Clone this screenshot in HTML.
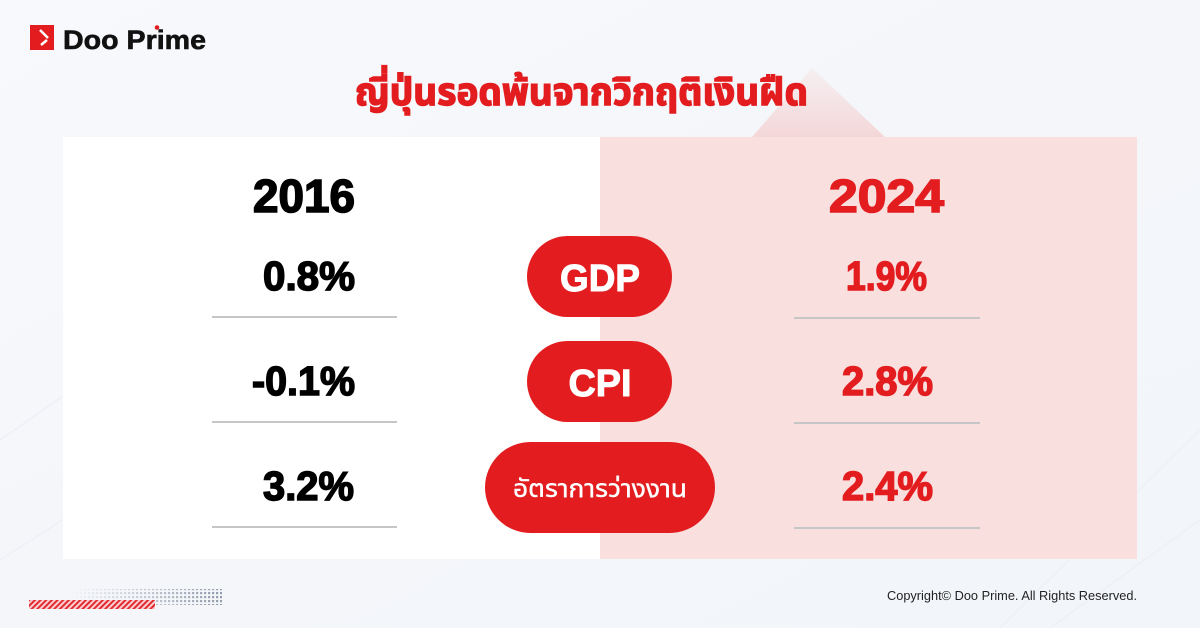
<!DOCTYPE html>
<html>
<head>
<meta charset="utf-8">
<style>
html,body{margin:0;padding:0;}
body{width:1200px;height:628px;overflow:hidden;background:#f5f7fb;}
svg{display:block;}
text{font-family:"Liberation Sans","Noto Sans CJK SC",sans-serif;}
</style>
</head>
<body>
<svg width="1200" height="628" viewBox="0 0 1200 628" xmlns="http://www.w3.org/2000/svg">
  <defs>
    <linearGradient id="bg" x1="0" y1="0" x2="1" y2="1">
      <stop offset="0" stop-color="#f8f9fc"/>
      <stop offset="0.5" stop-color="#f4f6fa"/>
      <stop offset="1" stop-color="#f2f5f9"/>
    </linearGradient>
    <linearGradient id="tri" x1="0" y1="0" x2="0" y2="1">
      <stop offset="0" stop-color="#f6d4d4" stop-opacity="0.25"/>
      <stop offset="1" stop-color="#f3c9c9" stop-opacity="0.7"/>
    </linearGradient>
    <pattern id="hatch" width="4" height="4" patternUnits="userSpaceOnUse" patternTransform="rotate(45)">
      <rect width="4" height="4" fill="#f6d0d2"/>
      <rect width="2" height="4" fill="#e52a2f"/>
    </pattern>
    <pattern id="dots" width="4" height="4" patternUnits="userSpaceOnUse">
      <rect width="2.2" height="2.2" fill="#8f9aaa"/>
    </pattern>
    <linearGradient id="fade" x1="0" y1="0" x2="1" y2="0">
      <stop offset="0" stop-color="#fff" stop-opacity="0"/>
      <stop offset="1" stop-color="#fff" stop-opacity="1"/>
    </linearGradient>
    <mask id="dm"><rect x="70" y="588" width="155" height="20" fill="url(#fade)"/></mask>
  </defs>

  <rect width="1200" height="628" fill="url(#bg)"/>
  <g stroke="#eceff5" stroke-width="1.5" fill="none" opacity="0.8">
    <line x1="0" y1="440" x2="200" y2="300"/>
    <line x1="0" y1="560" x2="250" y2="400"/>
    <line x1="1000" y1="628" x2="1200" y2="430"/>
    <line x1="1050" y1="628" x2="1200" y2="520"/>
  </g>
  <polygon points="812,68 885,137 752,137" fill="url(#tri)"/>

  <!-- logo -->
  <rect x="30" y="25" width="24" height="25" fill="#e31d1f"/>
  <path d="M40,30 L48,38 M41,45 L47,40" stroke="#fff" stroke-width="2.5" fill="none"/>
  <rect x="30" y="25" width="8" height="25" fill="#e31d1f"/>
  <text x="63" y="49" font-size="27" font-weight="bold" fill="#111" stroke="#111" stroke-width="0.6" textLength="143" lengthAdjust="spacingAndGlyphs">Doo Prime</text>
  <circle cx="157" cy="27.5" r="2.3" fill="#e31d1f"/>

  <!-- title -->
  <text x="581.5" y="105" font-size="38" font-weight="bold" fill="#e31d1f" stroke="#e31d1f" stroke-width="1.4" text-anchor="middle" textLength="453" lengthAdjust="spacingAndGlyphs" style='font-family:"Liberation Sans","Noto Sans Thai","Loma","Garuda",sans-serif'>ญี่ปุ่นรอดพ้นจากวิกฤติเงินฝืด</text>

  <!-- panels -->
  <rect x="63" y="137" width="537" height="422" fill="#ffffff"/>
  <rect x="600" y="137" width="537" height="422" fill="#fadfdf"/>

  <!-- headers -->
  <text x="253" y="212" font-size="46" font-weight="bold" fill="#000" stroke="#000" stroke-width="1.6" textLength="102" lengthAdjust="spacingAndGlyphs">2016</text>
  <text x="829" y="212" font-size="46" font-weight="bold" fill="#e31d1f" stroke="#e31d1f" stroke-width="1.6" textLength="115" lengthAdjust="spacingAndGlyphs">2024</text>

  <g font-size="41" font-weight="bold" fill="#000" stroke="#000" stroke-width="1.5">
    <text x="263" y="290" textLength="92" lengthAdjust="spacingAndGlyphs">0.8%</text>
    <text x="252" y="395" textLength="103" lengthAdjust="spacingAndGlyphs">-0.1%</text>
    <text x="263" y="500" textLength="91" lengthAdjust="spacingAndGlyphs">3.2%</text>
  </g>
  <g font-size="41" font-weight="bold" fill="#e31d1f" stroke="#e31d1f" stroke-width="1.5">
    <text x="846" y="290" textLength="81" lengthAdjust="spacingAndGlyphs">1.9%</text>
    <text x="842" y="395" textLength="91" lengthAdjust="spacingAndGlyphs">2.8%</text>
    <text x="842" y="500" textLength="91" lengthAdjust="spacingAndGlyphs">2.4%</text>
  </g>

  <g stroke="#c6c6c6" stroke-width="2">
    <line x1="212" y1="317" x2="397" y2="317"/>
    <line x1="212" y1="422" x2="397" y2="422"/>
    <line x1="212" y1="527" x2="397" y2="527"/>
    <line x1="794" y1="318" x2="980" y2="318"/>
    <line x1="794" y1="423" x2="980" y2="423"/>
    <line x1="794" y1="528" x2="980" y2="528"/>
  </g>

  <!-- pills -->
  <rect x="527" y="236" width="145" height="81" rx="40.5" fill="#e31d1f"/>
  <rect x="527" y="341" width="145" height="81" rx="40.5" fill="#e31d1f"/>
  <rect x="485" y="442" width="230" height="91" rx="45.5" fill="#e31d1f"/>
  <text x="600" y="291" font-size="38" font-weight="bold" fill="#fff" stroke="#fff" stroke-width="1" text-anchor="middle" textLength="80" lengthAdjust="spacingAndGlyphs">GDP</text>
  <text x="600" y="396" font-size="38" font-weight="bold" fill="#fff" stroke="#fff" stroke-width="1" text-anchor="middle" textLength="63" lengthAdjust="spacingAndGlyphs">CPI</text>
  <text x="600" y="497" font-size="25" fill="#fff" stroke="#fff" stroke-width="0.4" text-anchor="middle" textLength="174" lengthAdjust="spacingAndGlyphs" style='font-family:"Liberation Sans","Noto Sans Thai","Loma","Garuda",sans-serif'>อัตราการว่างงาน</text>

  <!-- bottom-left decoration -->
  <rect x="72" y="589" width="150" height="16" fill="url(#dots)" mask="url(#dm)"/>
  <rect x="29" y="600" width="126" height="9" fill="url(#hatch)"/>

  <text x="887" y="600" font-size="13" fill="#222" textLength="250" lengthAdjust="spacingAndGlyphs">Copyright© Doo Prime. All Rights Reserved.</text>
</svg>
</body>
</html>
